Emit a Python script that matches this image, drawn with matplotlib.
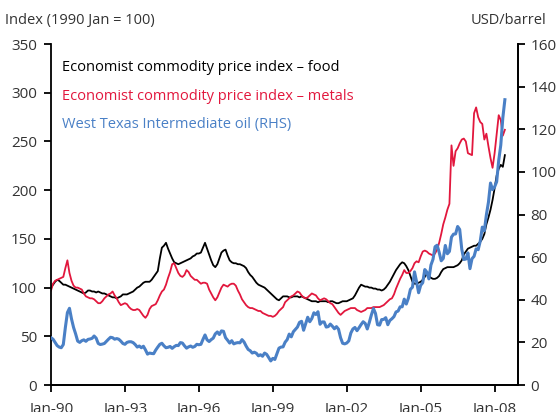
import matplotlib
matplotlib.use("Agg")
import matplotlib.pyplot as plt
import numpy as np

plt.rcParams['font.family'] = ['Open Sans', 'DejaVu Sans']

# monthly values, Jan 1990 .. Jun 2008
food = [
    100, 103, 106, 108, 107, 105, 103, 103, 102, 101, 100, 99,
    98, 97, 96, 95, 94, 95, 97, 97, 96, 96, 95, 96,
    95, 94, 94, 93, 92, 91, 90, 90, 89, 90, 91, 93,
    93, 93, 94, 95, 96, 98, 100, 101, 103, 105, 106, 106,
    106, 108, 111, 114, 117, 130, 141, 143, 146, 140, 135, 130,
    126, 125, 124, 125, 126, 127, 128, 129, 130, 132, 133, 135,
    135, 136, 141, 146, 140, 134, 128, 123, 121, 124, 130, 136,
    138, 139, 133, 128, 126, 125, 125, 124, 124, 123, 122, 120,
    116, 113, 111, 108, 105, 103, 102, 101, 100, 98, 96, 94,
    92, 90, 88, 87, 89, 91, 91, 91, 90, 90, 91, 91,
    91, 90, 91, 90, 89, 88, 87, 86, 86, 86, 85, 86,
    86, 86, 86, 85, 86, 86, 85, 84, 84, 85, 86, 86,
    86, 87, 88, 89, 92, 96, 100, 103, 102, 101, 101, 100,
    100, 99, 99, 98, 98, 97, 98, 100, 103, 106, 110, 114,
    118, 121, 124, 126, 125, 122, 118, 112, 106, 104, 104, 105,
    106, 108, 111, 114, 112, 110, 109, 109, 110, 112, 116, 119,
    120, 121, 121, 121, 121, 122, 123, 125, 128, 134, 137, 140,
    141, 142, 143, 143, 145, 147, 150, 155, 165, 172, 180, 190,
    202, 215, 222, 226, 224, 236,
]

metals = [
    97, 104, 107, 108, 109, 110, 111, 120, 128, 115, 107, 102,
    100, 100, 99, 98, 94, 91, 90, 89, 89, 88, 86, 84,
    84, 86, 89, 91, 93, 94, 96, 92, 89, 85, 82, 83,
    84, 83, 80, 78, 77, 77, 78, 77, 74, 71, 69, 72,
    78, 81, 82, 83, 87, 92, 96, 98, 103, 110, 116, 124,
    125, 120, 115, 112, 111, 113, 118, 116, 112, 110, 108, 108,
    106, 104, 105, 105, 104, 98, 94, 90, 87, 90, 95, 100,
    103, 102, 101, 103, 104, 104, 102, 97, 93, 88, 85, 82,
    80, 79, 79, 78, 77, 76, 76, 74, 73, 72, 71, 71,
    70, 71, 73, 76, 78, 80, 85, 87, 89, 91, 92, 94,
    96, 95, 92, 90, 89, 90, 92, 94, 93, 92, 89, 87,
    88, 89, 88, 86, 84, 83, 80, 77, 74, 72, 74, 76,
    77, 78, 79, 79, 79, 77, 76, 75, 76, 77, 79, 79,
    79, 80, 80, 80, 80, 81, 82, 84, 86, 88, 89, 93,
    99, 104, 109, 113, 118, 115, 115, 117, 120, 125, 127, 126,
    132, 137, 138, 137, 135, 134, 133, 135, 139, 146, 155, 165,
    172, 180, 186, 246, 225, 240, 243, 248, 252, 253, 250, 238,
    237, 236, 279, 285, 275, 270, 268, 252, 258, 245, 233, 223,
    238, 258, 277, 272, 256, 262,
]

oil = [
    22.2, 21.5, 20, 18.5, 17.8, 17.5, 19, 27, 34, 36, 31, 27,
    24, 20.6, 20, 20.8, 21.2, 20.5, 21.4, 21.6, 21.9, 23, 22, 19.5,
    19, 19.2, 19.5, 20.5, 21.5, 22.4, 22.2, 21.5, 21.8, 21.5, 20.6, 19.5,
    19.1, 20, 20.3, 20.3, 19.9, 19, 17.8, 18.3, 17.5, 18.2, 16.5, 14.5,
    15, 14.8, 14.7, 16.4, 17.8, 19.1, 19.6, 18.4, 17.5, 17.7, 18.1, 17.2,
    18, 18.6, 18.5, 19.9, 19.7, 18.4, 17.3, 17.9, 18.3, 17.7, 18.1, 19.1,
    18.9, 19.1, 21.4, 23.5, 21.2, 20.4, 21.3, 22, 24, 24.9, 23.7, 25.4,
    25.2, 22.2, 21, 19.7, 20.8, 19.3, 19.7, 19.9, 19.8, 21.3, 20.2, 18.3,
    16.7, 16.1, 15, 15.4, 14.9, 13.7, 14.2, 13.5, 15, 14.4, 12.9, 11.3,
    12.5, 12, 14.7, 17.3, 17.8, 17.9, 20.1, 21.3, 23.9, 22.6, 25, 26.1,
    27.2, 29.4, 29.9, 25.7, 28.8, 31.8, 29.7, 31.2, 33.9, 33.1, 34.4, 28.5,
    29.6, 29.6, 27.2, 27.4, 28.6, 27.6, 26.4, 27.4, 26.2, 22.2, 19.6, 19.3,
    19.7, 20.7, 24.4, 26.3, 27, 25.5, 26.9, 28.4, 29.7, 28.9, 26.3, 29.4,
    32.9, 35.9, 33.6, 28.3, 28.1, 30.7, 30.8, 31.6, 28.3, 30.3, 31.1, 32.1,
    34.3, 34.7, 36.7, 36.7, 40.3, 38, 40.7, 44.9, 45.9, 53.1, 48.5, 43.3,
    46.8, 48, 54.2, 53, 49.8, 56.3, 59, 64.9, 65.6, 62.3, 58.3, 59.4,
    65.5, 61.6, 62.7, 69.4, 70.8, 70.9, 74.4, 73, 63.8, 58.9, 59.1, 62,
    54.6, 59.3, 60.4, 63.9, 63.5, 67.5, 74.1, 72.4, 79.9, 85.8, 94.8, 91.7,
    93, 95.4, 105.4, 112.6, 125.4, 133.9,
]

tick_years = [1990, 1993, 1996, 1999, 2002, 2005, 2008]
tick_labels = ["Jan-90", "Jan-93", "Jan-96", "Jan-99", "Jan-02", "Jan-05", "Jan-08"]

labels = ["Economist commodity price index \u2013 food",
          "Economist commodity price index \u2013 metals",
          "West Texas Intermediate oil (RHS)"]
c_food = "#000000"
c_metals = "#e2173d"
c_oil = "#4a80c6"
txt = "#333333"

t = 1990 + np.arange(len(food)) / 12.0

fig = plt.figure(figsize=(5.59, 4.12), dpi=100)
ax = fig.add_axes([0.0912, 0.0655, 0.8355, 0.8275])
ax2 = ax.twinx()

ax.plot(t, food, color=c_food, lw=1.3)
ax.plot(t, metals, color=c_metals, lw=1.3)
ax2.plot(t, oil, color=c_oil, lw=2.2)

ax.set_xlim(1990, 2008.95)
ax.set_ylim(0, 350)
ax2.set_ylim(0, 160)
ax.set_yticks(np.arange(0, 351, 50))
ax2.set_yticks(np.arange(0, 161, 20))
ax.set_xticks(tick_years)
ax.set_xticklabels(tick_labels)

for a in (ax, ax2):
    a.spines['top'].set_visible(False)
    for s in a.spines.values():
        s.set_linewidth(1.3)
    a.tick_params(direction='out', length=5, width=1.3, labelsize=11,
                  colors='black', labelcolor=txt)
ax.tick_params(axis='x', pad=7)
ax.tick_params(axis='y', pad=5)
ax2.tick_params(axis='y', pad=4)
ax2.spines['left'].set_visible(False)

fig.text(0.009, 0.951, "Index (1990 Jan = 100)", fontsize=10.5, color=txt,
         va='center', ha='left')
fig.text(0.977, 0.951, "USD/barrel", fontsize=10.5, color=txt,
         va='center', ha='right')

for i, (lab, c) in enumerate(zip(labels, [c_food, c_metals, c_oil])):
    fig.text(0.111, 0.835 - i * 0.069, lab, fontsize=10.5, color=c,
             va='center', ha='left')

fig.savefig("out.png", dpi=100)
